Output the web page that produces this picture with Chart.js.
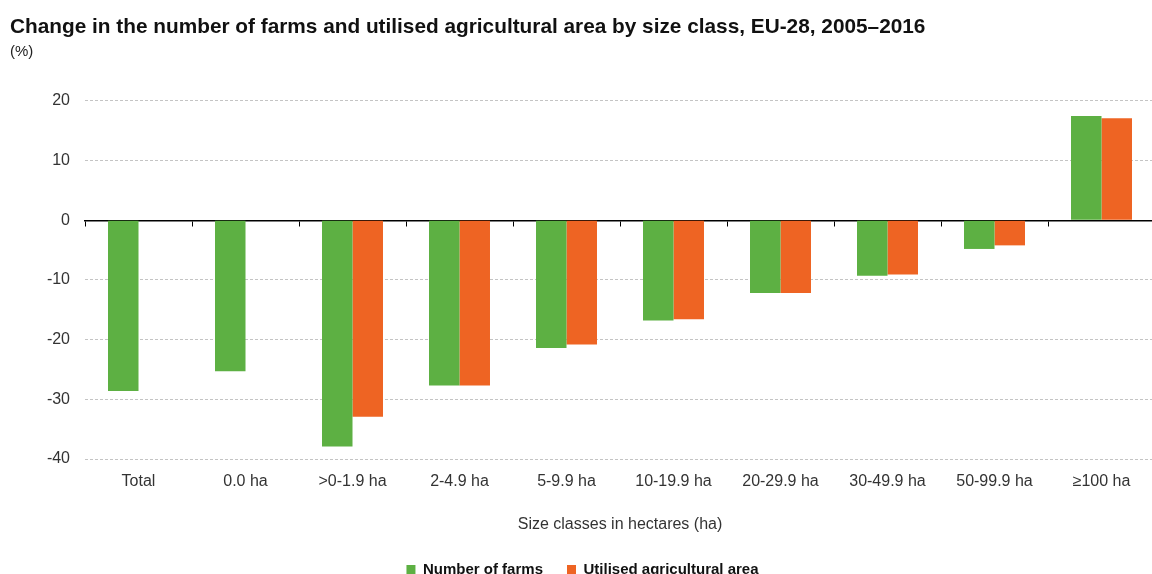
<!DOCTYPE html>
<html>
<head>
<meta charset="utf-8">
<title>Farms and UAA by size class</title>
<script src="https://cdn.jsdelivr.net/npm/chart.js@4.4.1/dist/chart.umd.min.js"></script>
<style>
    html, body { margin: 0; padding: 0; overflow: hidden; background: #fff; }
    #wrap { width: 1152px; height: 574px; overflow: hidden; }
</style>
</head>
<body>
<div id="wrap"><canvas id="farmsChart" width="1160" height="587"></canvas></div>
<script>
// data
const sizeClasses = ['Total', '0.0 ha', '>0-1.9 ha', '2-4.9 ha', '5-9.9 ha', '10-19.9 ha', '20-29.9 ha', '30-49.9 ha', '50-99.9 ha', '\u2265100 ha'];
const farmsChange = [-28.6, -25.3, -37.9, -27.7, -21.4, -16.8, -12.2, -9.3, -4.8, 17.5];
const areaChange = [null, null, -32.9, -27.7, -20.8, -16.6, -12.2, -9.1, -4.2, 17.1];
const yTicks = [-40, -30, -20, -10, 0, 10, 20];

const FONT = "'Liberation Sans', Arial, sans-serif";
const GREEN = '#5db043';
const ORANGE = '#ee6423';

const ctx = document.getElementById('farmsChart').getContext('2d');

const farmsChart = new Chart(ctx, {
    type: 'bar',
    data: {
        labels: sizeClasses,
        datasets: [{
            label: 'Number of farms',
            data: farmsChange,
            backgroundColor: GREEN,
            borderWidth: 0,
            categoryPercentage: 0.57,
            barPercentage: 1.0
        }, {
            label: 'Utilised agricultural area',
            data: areaChange,
            backgroundColor: ORANGE,
            borderWidth: 0,
            categoryPercentage: 0.57,
            barPercentage: 1.0
        }]
    },
    options: {
        responsive: false,
        animation: false,
        layout: { padding: { left: 10, right: 5, top: 0, bottom: 0 } },
        plugins: {
            title: {
                display: true,
                text: 'Change in the number of farms and utilised agricultural area by size class, EU-28, 2005\u20132016',
                align: 'start',
                color: '#111',
                font: { family: FONT, size: 20.8, weight: 'bold' },
                padding: { top: 15, bottom: 0 }
            },
            subtitle: {
                display: true,
                text: '(%)',
                align: 'start',
                color: '#222',
                font: { family: FONT, size: 15 },
                padding: { top: 3, bottom: 40 }
            },
            legend: {
                position: 'bottom',
                labels: {
                    boxWidth: 9,
                    boxHeight: 9,
                    padding: 24,
                    color: '#111',
                    font: { family: FONT, size: 15, weight: 'bold' }
                }
            },
            tooltip: { enabled: false }
        },
        scales: {
            x: {
                type: 'category',
                grid: { display: false, drawTicks: false },
                border: { display: false },
                ticks: {
                    padding: 13,
                    color: '#333',
                    maxRotation: 0,
                    autoSkip: false,
                    font: { family: FONT, size: 16 }
                },
                title: {
                    display: true,
                    text: 'Size classes in hectares (ha)',
                    color: '#333',
                    font: { family: FONT, size: 16 },
                    padding: { top: 20, bottom: 4 }
                },
                afterFit: s => { s.height = 79; }
            },
            x2: {
                type: 'category',
                axis: 'x',
                labels: sizeClasses,
                position: { y: 0 },
                offset: true,
                z: 1,
                grid: { offset: true, drawOnChartArea: false, drawTicks: true, tickLength: 5, color: '#000', lineWidth: 1 },
                border: { display: true, color: '#000', width: 1.5 },
                ticks: { display: false }
            },
            y: {
                min: -40,
                max: 20,
                afterBuildTicks: s => { s.ticks = yTicks.map(v => ({ value: v })); },
                grid: {
                    drawTicks: false,
                    color: c => (c.tick && c.tick.value === 0) ? 'rgba(0,0,0,0)' : '#c4c4c4'
                },
                border: { display: false, dash: [3, 2] },
                ticks: {
                    padding: 15,
                    color: '#333',
                    font: { family: FONT, size: 16 }
                },
                afterFit: s => { s.width = 75; }
            }
        }
    }
});
</script>
</body>
</html>
